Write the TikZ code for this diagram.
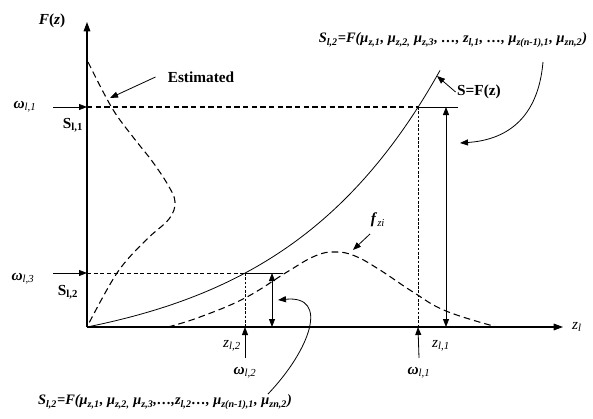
\documentclass[tikz,border=0pt]{standalone}
\usepackage{fontspec}
\setmainfont{Liberation Serif}
\usetikzlibrary{arrows.meta,positioning,calc}
\newcommand{\isub}[1]{\textsubscript{\textit{#1}}}
\newcommand{\wlab}[1]{\textbf{\textit{ω}}\isub{l,#1}}
\newcommand{\muz}[1]{μ\isub{#1}}

\begin{document}
\begin{tikzpicture}[x=0.75pt, y=-0.75pt,
    axisline/.style={thick, -{Triangle[length=7pt,width=5pt]}},
    feed/.style={semithick, -{Triangle[length=6pt,width=4.5pt]}},
    twoway/.style={semithick, {Triangle[length=6pt,width=4.5pt]}-{Triangle[length=6pt,width=4.5pt]}},
    levelbig/.style={thick, dash pattern=on 4pt off 2.5pt},
    levelsmall/.style={semithick, dash pattern=on 3pt off 2pt},
    dropline/.style={semithick, dash pattern=on 2pt off 1.2pt},
    pdfcurve/.style={thick, dash pattern=on 5pt off 3pt},
    lbl/.style={font=\fontsize{11.5}{13}\selectfont, inner sep=1pt},
    formula/.style={font=\fontsize{10.8}{12}\selectfont\bfseries\itshape, inner sep=1pt}
  ]
    \useasboundingbox (0,0) rectangle (593,418);
    % axes
    \coordinate (O) at (87,327);
    \coordinate (ytop) at (87,22);
    \coordinate (xend) at (563,327);
    \draw[axisline] (O) -- (ytop);
    \draw[axisline] (O) -- (xend);
    \node[lbl] (Fz) at (52,21) {\textbf{\textit{F}(\textit{z})}};
    \node[lbl] (zl) at (577,327) {\textit{z}\isub{l}};

    % cdf S=F(z)
    \draw[semithick] plot[domain=87:440, samples=80] (\x, {327-32.45*(exp(0.0062*(\x-87))-1)});
    \coordinate (p11) at (418,107);
    \coordinate (p12) at (245,273);

    % level omega l,1
    \coordinate (a11) at (87,107);
    \coordinate (w11tail) at (53,107);
    \coordinate (bar11) at (458,107);
    \coordinate (z11) at (418,327);
    \coordinate (d11t) at (446,107);
    \coordinate (d11b) at (446,327);
    \draw[levelbig] (a11) -- (p11);
    \draw[semithick] (p11) -- (bar11);
    \draw[dropline] (p11) -- (z11);
    \draw[twoway] (d11t) -- (d11b);
    \node[lbl] (w11) at (25,107) {\wlab{1}};
    \draw[feed] (w11tail) -- (a11);
    \node[lbl] (s11) at (73,125) {\textbf{S\textsubscript{l,1}}};

    % level omega l,3
    \coordinate (a12) at (87,273);
    \coordinate (w13tail) at (53,273);
    \coordinate (bar12) at (283,273);
    \coordinate (z12) at (245,327);
    \coordinate (d12t) at (272,273);
    \coordinate (d12b) at (272,327);
    \draw[levelsmall] (a12) -- (p12);
    \draw[semithick] (p12) -- (bar12);
    \draw[dropline] (p12) -- (z12);
    \draw[twoway] (d12t) -- (d12b);
    \node[lbl] (w13) at (23,279) {\wlab{3}};
    \draw[feed] (w13tail) -- (a12);
    \node[lbl] (s12) at (68,292) {\textbf{S\textsubscript{l,2}}};

    % below the axis
    \coordinate (u12) at (245,358);
    \coordinate (u11) at (419,358);
    \draw[feed] (u12) -- (z12);
    \draw[feed] (u11) -- (z11);
    \node[lbl] (w12b) at (245,373) {\wlab{2}};
    \node[lbl] (w11b) at (419,373) {\wlab{1}};
    \node[lbl] (zl2) at (232,346) {\textit{z}\isub{l,2}};
    \node[lbl] (zl1) at (441,346) {\textit{z}\isub{l,1}};

    % estimated density (sideways)
    \draw[pdfcurve] plot[smooth, tension=0.6] coordinates {(88,62) (112,108) (133,137) (152,161) (168,185) (175,202) (169,219) (145,241) (117,273) (88,325)};
    \node[lbl] (est) at (201,77) {\textbf{Estimated}};
    \coordinate (estTip) at (110,98);
    \draw[feed] ([xshift=-8]est.west) -- (estTip);

    % density f_zi
    \draw[pdfcurve] plot[smooth, tension=0.7] coordinates {(168,327) (200,317) (245,298) (287,272) (315,256) (335,252) (355,256) (380,270) (413,292) (446,311) (497,327)};
    \node[lbl] (fzi) at (378,220) {\textbf{\textit{f}}\isub{zi}};
    \coordinate (fziTip) at (353,250);
    \draw[feed] ([xshift=-6,yshift=-4]fzi.south) -- (fziTip);

    % S=F(z) label
    \node[lbl] (sfz) at (479,92) {\textbf{S=F(z)}};
    \coordinate (sfzTip) at (437,76);
    \draw[feed] (sfz.west) -- (sfzTip);

    % formulas
    \node[formula] (topf) at (453,40) {S\isub{l,2}=F(\muz{z,1}, \muz{z,2,} \muz{z,3}, \dots, z\isub{l,1}, \dots, \muz{z(n-1),1}, \muz{zn,2})};
    \coordinate (topTail) at (543,62);
    \coordinate (topTip) at (460,143);
    \draw[feed] (topTail) .. controls (538,120) and (505,140) .. (topTip);

    \node[formula] (botf) at (165,402) {S\isub{l,2}=F(\muz{z,1}, \muz{z,2,} \muz{z,3},\dots,z\isub{l,2}\dots, \muz{z(n-1),1}, \muz{zn,2})};
    \coordinate (botTail) at (268,394);
    \coordinate (botTip) at (278,300);
    \draw[feed] (botTail) .. controls (310,350) and (330,295) .. (botTip);
\end{tikzpicture}
\end{document}
